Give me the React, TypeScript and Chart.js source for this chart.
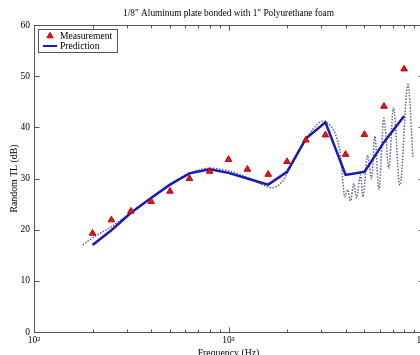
import { useEffect, useRef } from "react";
import { Chart, registerables } from "chart.js";

Chart.register(...registerables);

// ---- data ----
const frequencies = [200, 250, 315, 400, 500, 630, 800, 1000, 1250, 1600, 2000, 2500, 3150, 4000, 5000, 6300, 8000];
const measurement = [19.3, 21.9, 23.6, 25.5, 27.5, 30.0, 31.4, 33.7, 31.8, 30.8, 33.3, 37.5, 38.5, 34.7, 38.6, 44.1, 51.4];
const prediction = [17.0, 19.9, 23.3, 26.2, 28.8, 31.0, 31.8, 31.1, 30.0, 28.8, 31.3, 37.8, 41.0, 30.7, 31.3, 37.1, 42.2];
const narrowFreq = [178, 200, 250, 315, 400, 500, 630, 800, 1000, 1250, 1450, 1680, 1900, 2100, 2400, 2700, 3050, 3320, 3590, 3780, 3880, 3960, 4106, 4240, 4410, 4551, 4773, 4906, 5188, 5440, 5657, 5932, 6295, 6679, 7046, 7609, 8368, 8880];
const narrowTL = [17.0, 18.4, 20.6, 23.3, 26.2, 28.7, 31.0, 32.0, 31.5, 30.2, 29.0, 28.2, 29.5, 32.5, 36.5, 39.5, 41.2, 40.4, 38.1, 34.2, 29.1, 26.4, 27.8, 25.6, 29.0, 26.2, 30.7, 26.4, 34.5, 30.0, 38.3, 27.9, 41.8, 32.0, 43.9, 28.7, 48.4, 34.2];

const xAllTicks = [100, 200, 300, 400, 500, 600, 700, 800, 900, 1000, 2000, 3000, 4000, 5000, 6000, 7000, 8000, 9000, 10000];
const xMajorTicks = [100, 1000, 10000];
const xTickLabels = ["10\u00B2", "10\u00B3", "10\u2074"];
const yTicks = [0, 10, 20, 30, 40, 50, 60];
const yTickLabels = ["0", "10", "20", "30", "40", "50", "60"];

const titleText = '1/8" Aluminum plate bonded with 1" Polyurethane foam';
const xTitle = "Frequency (Hz)";
const yTitle = "Random TL (dB)";
const legendLabels = ["Measurement", "Prediction"];

const FONT = '"Liberation Serif", "Times New Roman", serif';
const AXIS_COLOR = "#555555";
const MEAS_FILL = "#e3161c";
const MEAS_EDGE = "#c00000";
const PRED_COLOR = "#1a1ab4";
const NARROW_COLOR = "rgba(70,70,125,0.85)";

const decorations = {
  id: "decorations",
  afterDraw(chart: any) {
    const { ctx, chartArea, scales } = chart;
    const { left, right, top, bottom } = chartArea;
    const xs = scales.x;
    const ys = scales.y;
    ctx.save();
    const L = Math.round(left) + 0.5;
    const R = Math.round(right) + 0.5;
    const T = Math.round(top) + 0.5;
    const B = Math.round(bottom) + 0.5;
    ctx.strokeStyle = AXIS_COLOR;
    ctx.lineWidth = 1;
    ctx.strokeRect(L, T, R - L, B - T);
    ctx.beginPath();
    xAllTicks.forEach((v) => {
      const px = Math.round(xs.getPixelForValue(v)) + 0.5;
      const len = xMajorTicks.includes(v) ? 5 : 3;
      ctx.moveTo(px, B);
      ctx.lineTo(px, B - len);
      ctx.moveTo(px, T);
      ctx.lineTo(px, T + len);
    });
    yTicks.forEach((v) => {
      const py = Math.round(ys.getPixelForValue(v)) + 0.5;
      ctx.moveTo(L, py);
      ctx.lineTo(L + 5, py);
      ctx.moveTo(R, py);
      ctx.lineTo(R - 5, py);
    });
    ctx.stroke();

    // titles
    ctx.fillStyle = "#000";
    ctx.font = `9.3px ${FONT}`;
    ctx.textAlign = "center";
    ctx.textBaseline = "middle";
    ctx.fillText(titleText, (left + right) / 2, 14);
    ctx.font = `9.8px ${FONT}`;
    ctx.textBaseline = "top";
    ctx.fillText(xTitle, (left + right) / 2, 349);
    ctx.save();
    ctx.translate(14.5, (top + bottom) / 2);
    ctx.rotate(-Math.PI / 2);
    ctx.textBaseline = "middle";
    ctx.fillText(yTitle, 0, 0);
    ctx.restore();

    // legend
    ctx.fillStyle = "#fff";
    ctx.fillRect(38.5, 29.5, 79, 23);
    ctx.strokeStyle = AXIS_COLOR;
    ctx.strokeRect(38.5, 29.5, 79, 23);
    const r = 3.6;
    const cx = 50, cy = 36;
    ctx.beginPath();
    ctx.moveTo(cx, cy - r);
    ctx.lineTo(cx + r * 0.866, cy + r * 0.5);
    ctx.lineTo(cx - r * 0.866, cy + r * 0.5);
    ctx.closePath();
    ctx.fillStyle = MEAS_FILL;
    ctx.fill();
    ctx.strokeStyle = MEAS_EDGE;
    ctx.stroke();
    ctx.beginPath();
    ctx.moveTo(43, 46);
    ctx.lineTo(57, 46);
    ctx.strokeStyle = PRED_COLOR;
    ctx.lineWidth = 2;
    ctx.stroke();
    ctx.fillStyle = "#000";
    ctx.font = `9.6px ${FONT}`;
    ctx.textAlign = "left";
    ctx.textBaseline = "middle";
    ctx.fillText(legendLabels[0], 60, 36);
    ctx.fillText(legendLabels[1], 60, 46);
    ctx.restore();
  },
};

export default function App() {
  const ref = useRef<HTMLCanvasElement>(null);
  useEffect(() => {
    const canvas = ref.current!;
    const chart = new Chart(canvas, {
      type: "line",
      data: {
        datasets: [
          {
            label: legendLabels[0],
            data: frequencies.map((f, i) => ({ x: f, y: measurement[i] })),
            showLine: false,
            pointStyle: "triangle",
            pointRadius: 3.8,
            pointBackgroundColor: MEAS_FILL,
            pointBorderColor: MEAS_EDGE,
            pointBorderWidth: 1,
          },
          {
            label: legendLabels[1],
            data: frequencies.map((f, i) => ({ x: f, y: prediction[i] })),
            borderColor: PRED_COLOR,
            borderWidth: 2.5,
            pointRadius: 0,
            tension: 0,
            fill: false,
          },
          {
            label: "Narrow band prediction",
            data: narrowFreq.map((f, i) => ({ x: f, y: narrowTL[i] })),
            borderColor: NARROW_COLOR,
            borderWidth: 1.5,
            borderDash: [1.5, 1.5],
            pointRadius: 0,
            cubicInterpolationMode: "monotone",
            fill: false,
          },
        ],
      } as any,
      options: {
        animation: false,
        responsive: false,
        devicePixelRatio: 1,
        layout: { padding: { top: 25, right: 37, left: 0, bottom: 0 } },
        plugins: { legend: { display: false }, title: { display: false }, tooltip: { enabled: false } },
        scales: {
          x: {
            type: "logarithmic",
            min: 100,
            max: 10000,
            grid: { display: false, drawTicks: false, tickLength: 0 },
            border: { display: false },
            afterBuildTicks: (s: any) => {
              s.ticks = xAllTicks.map((v) => ({ value: v }));
            },
            afterFit: (s: any) => {
              s.height = 23;
            },
            ticks: {
              autoSkip: false,
              maxRotation: 0,
              minRotation: 0,
              padding: 3,
              color: "#000",
              font: { family: FONT, size: 9.5 },
              callback: (v: any) => {
                const i = xMajorTicks.indexOf(Number(v));
                return i >= 0 ? xTickLabels[i] : "";
              },
            },
          },
          y: {
            type: "linear",
            min: 0,
            max: 60,
            grid: { display: false, drawTicks: false, tickLength: 0 },
            border: { display: false },
            afterBuildTicks: (s: any) => {
              s.ticks = yTicks.map((v) => ({ value: v }));
            },
            afterFit: (s: any) => {
              s.width = 34;
            },
            ticks: {
              padding: 4,
              color: "#000",
              font: { family: FONT, size: 9.5 },
              callback: (v: any) => {
                const i = yTicks.indexOf(Number(v));
                return i >= 0 ? yTickLabels[i] : "";
              },
            },
          },
        },
      } as any,
      plugins: [decorations],
    });
    return () => chart.destroy();
  }, []);
  return (
    <div style={{ position: "fixed", left: 0, top: 0, width: 420, height: 355, overflow: "hidden", background: "#fff" }}>
      <canvas ref={ref} width={460} height={355} style={{ display: "block", width: 460, height: 355 }} />
    </div>
  );
}
